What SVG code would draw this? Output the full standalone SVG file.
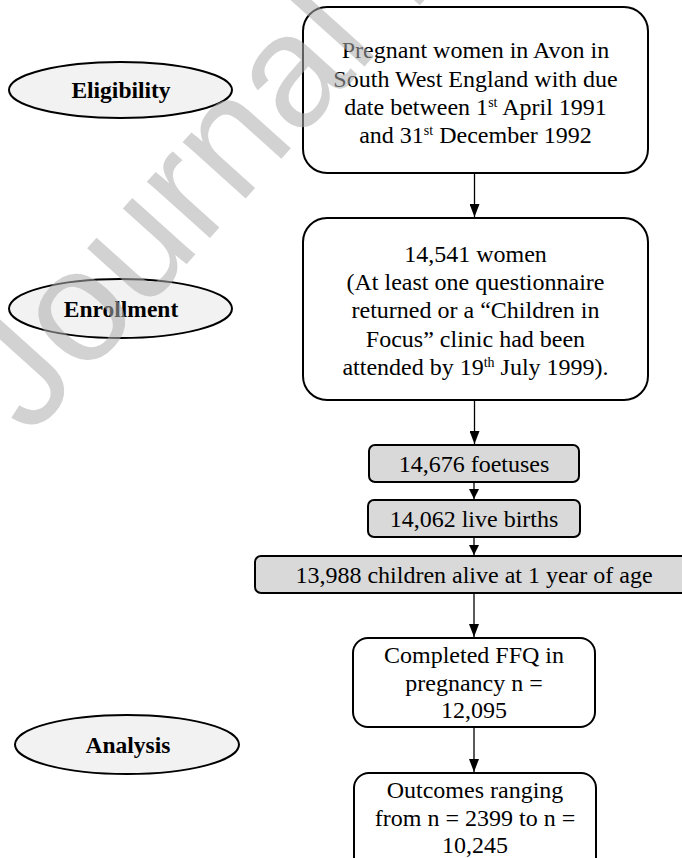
<svg xmlns="http://www.w3.org/2000/svg" width="682" height="858" viewBox="0 0 682 858">
<style>
.bg{fill:#ffffff}
.box{fill:#ffffff;stroke:#000;stroke-width:2}
.gbox{fill:#d9d9d9;stroke:#000;stroke-width:2}
.ell{fill:#f2f2f2;stroke:#000;stroke-width:2}
.t{font-family:"Liberation Serif","Times New Roman",serif;font-size:24px;fill:#000;text-anchor:middle}
.lbl{font-family:"Liberation Serif","Times New Roman",serif;font-size:23.5px;font-weight:bold;fill:#000;text-anchor:middle}
.sup{font-size:14px}
.conn line{stroke:#000;stroke-width:1.3}
.wm{font-family:"Liberation Sans",Arial,sans-serif;font-size:160px;fill:#adadad;fill-opacity:0.55}
</style>
<defs>
<marker id="ah" viewBox="0 0 10 10" refX="10" refY="5" markerWidth="10" markerHeight="10" markerUnits="userSpaceOnUse" orient="auto">
<path d="M0,0 L10,5 L0,10 Z" fill="#000"/>
</marker>
<marker id="ahL" viewBox="0 0 13 10" refX="13" refY="5" markerWidth="13" markerHeight="10" markerUnits="userSpaceOnUse" orient="auto">
<path d="M0,0 L13,5 L0,10 Z" fill="#000"/>
</marker>
</defs>
<rect class="bg" x="0" y="0" width="682" height="858"/>

<g id="eligibility">
<ellipse class="ell" cx="120.5" cy="90" rx="111.5" ry="28"/>
<text class="lbl" x="121" y="98">Eligibility</text>
</g>
<g id="enrollment">
<ellipse class="ell" cx="120.5" cy="308.5" rx="111.5" ry="29.5"/>
<text class="lbl" x="121" y="317">Enrollment</text>
</g>
<g id="analysis">
<ellipse class="ell" cx="127" cy="744.5" rx="112" ry="29.5"/>
<text class="lbl" x="128" y="753">Analysis</text>
</g>

<g id="pregnant">
<rect class="box" x="303" y="7" width="345" height="166" rx="24" ry="24"/>
<text class="t" x="475.5" y="58">Pregnant women in Avon in</text>
<text class="t" x="475.5" y="87">South West England with due</text>
<text class="t" x="475.5" y="115">date between 1<tspan class="sup" baseline-shift="8">st</tspan> April 1991</text>
<text class="t" x="475.5" y="143">and 31<tspan class="sup" baseline-shift="8">st</tspan> December 1992</text>
</g>

<g id="women">
<rect class="box" x="303" y="218" width="345" height="182" rx="24" ry="24"/>
<text class="t" x="475.5" y="262">14,541 women</text>
<text class="t" x="475.5" y="290">(At least one questionnaire</text>
<text class="t" x="475.5" y="318">returned or a “Children in</text>
<text class="t" x="475.5" y="347">Focus” clinic had been</text>
<text class="t" x="475.5" y="375">attended by 19<tspan class="sup" baseline-shift="8">th</tspan> July 1999).</text>
</g>

<g id="foetuses">
<rect class="gbox" x="369" y="445" width="210" height="37" rx="6" ry="6"/>
<text class="t" x="474" y="472">14,676 foetuses</text>
</g>

<g id="livebirths">
<rect class="gbox" x="368" y="500" width="212" height="37" rx="6" ry="6"/>
<text class="t" x="474" y="527">14,062 live births</text>
</g>

<g id="children">
<rect class="gbox" x="255" y="556" width="440" height="37" rx="6" ry="6"/>
<text class="t" x="474" y="583">13,988 children alive at 1 year of age</text>
</g>

<g id="ffq">
<rect class="box" x="353" y="638" width="242" height="89" rx="15" ry="15"/>
<text class="t" x="474" y="663">Completed FFQ in</text>
<text class="t" x="474" y="691">pregnancy n =</text>
<text class="t" x="474" y="718">12,095</text>
</g>

<g id="outcomes">
<rect class="box" x="354" y="773" width="242" height="100" rx="15" ry="15"/>
<text class="t" x="475" y="798">Outcomes ranging</text>
<text class="t" x="475" y="826">from n = 2399 to n =</text>
<text class="t" x="475" y="853">10,245</text>
</g>

<g id="connectors" class="conn">
<line x1="474.5" y1="173" x2="474.5" y2="217" marker-end="url(#ahL)"/>
<line x1="474.5" y1="400" x2="474.5" y2="444" marker-end="url(#ahL)"/>
<line x1="474" y1="482" x2="474" y2="499" marker-end="url(#ah)"/>
<line x1="474" y1="537" x2="474" y2="555" marker-end="url(#ah)"/>
<line x1="474" y1="593" x2="474" y2="637" marker-end="url(#ahL)"/>
<line x1="474" y1="727" x2="474" y2="772" marker-end="url(#ahL)"/>
</g>

<text class="wm" transform="translate(30,438) rotate(-48)">Journal Pre-proof</text>
</svg>
